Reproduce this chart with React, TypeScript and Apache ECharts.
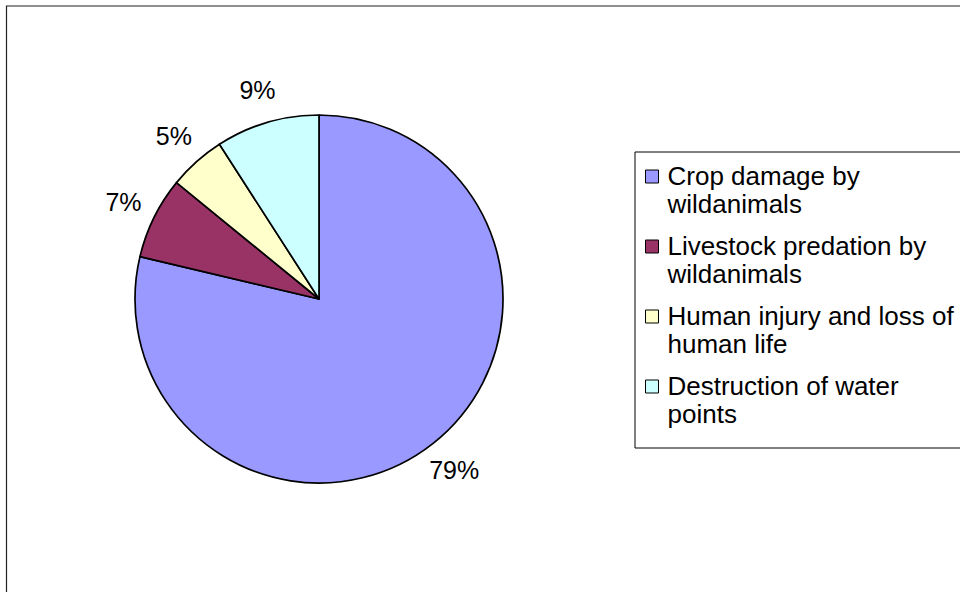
import React, { useEffect, useRef } from "react";
import * as echarts from "echarts";

const categories = [
  "Crop damage by wildanimals",
  "Livestock predation by wildanimals",
  "Human injury and loss of human life",
  "Destruction of water points",
];
const legendLabels = [
  "Crop damage by\nwildanimals",
  "Livestock predation by\nwildanimals",
  "Human injury and loss of\nhuman life",
  "Destruction of water\npoints",
];
const values = [78.7, 7.2, 5.0, 9.1];
const colors = ["#9999FF", "#993366", "#FFFFCC", "#CCFFFF"];

const FONT = "'Liberation Sans', Arial, sans-serif";

export default function App() {
  const ref = useRef<HTMLDivElement>(null);
  useEffect(() => {
    if (!ref.current) return;
    const chart = echarts.init(ref.current, undefined, { renderer: "svg" });
    const option: any = {
      animation: false,
      backgroundColor: "#ffffff",
      textStyle: { fontFamily: FONT },
      graphic: [
        {
          type: "rect",
          shape: { x: 6.5, y: 6, width: 1000, height: 700 },
          style: { fill: "none", stroke: "#222", lineWidth: 1.2 },
          silent: true,
        },
      ],
      legend: {
        orient: "vertical",
        left: 635,
        top: 152,
        padding: [10, 30, 20, 10],
        borderColor: "#000",
        borderWidth: 1,
        itemGap: 14,
        itemWidth: 13,
        itemHeight: 40,
        icon: "path://M0 0 L13 0 L13 13 L0 13 Z M0 40",
        itemStyle: { borderColor: "#000", borderWidth: 1 },
        selectedMode: false,
        data: categories,
        formatter: (name: string) => legendLabels[categories.indexOf(name)],
        textStyle: {
          fontFamily: FONT,
          fontSize: 26,
          lineHeight: 28,
          color: "#000",
          padding: [0, 0, 0, 4],
        },
      },
      series: [
        {
          type: "pie",
          center: [319, 299],
          radius: 184,
          startAngle: 90,
          clockwise: true,
          avoidLabelOverlap: false,
          data: categories.map((name, i) => ({
            name,
            value: values[i],
            itemStyle: { color: colors[i] },
          })),
          itemStyle: { borderColor: "#000", borderWidth: 1.7 },
          label: {
            show: true,
            position: "outside",
            formatter: (p: any) => Math.round(p.percent) + "%",
            fontFamily: FONT,
            fontSize: 25,
            color: "#000",
          },
          labelLine: {
            show: true,
            length: 34,
            length2: 0,
            lineStyle: { opacity: 0 },
          },
          labelLayout: (params: any) => {
            const pts = params.labelLinePoints;
            if (!pts) return {};
            return {
              x: pts[1][0],
              y: pts[1][1],
              align: "center",
              verticalAlign: "middle",
            };
          },
          emphasis: { disabled: true },
        },
      ],
    };
    chart.setOption(option);
    return () => chart.dispose();
  }, []);
  return (
    <div
      ref={ref}
      style={{ position: "fixed", left: 0, top: 0, width: 960, height: 592 }}
    />
  );
}
